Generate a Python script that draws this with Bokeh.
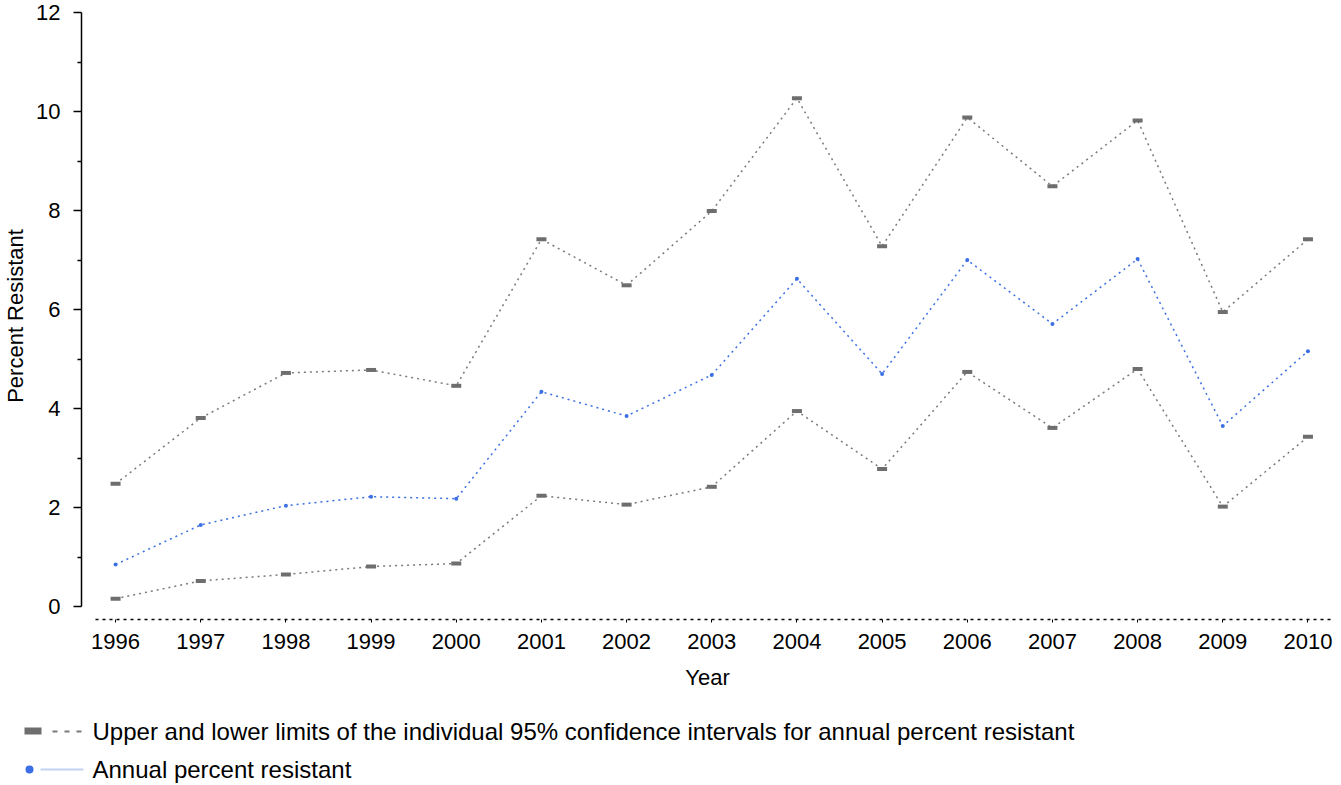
from bokeh.plotting import figure
from bokeh.models import Range1d, FixedTicker
from bokeh.layouts import column, row
from bokeh.embed import file_html
from bokeh.resources import INLINE
from bokeh.core.properties import value

years = list(range(1996, 2011))
upper = [2.48, 3.81, 4.72, 4.78, 4.46, 7.42, 6.49, 7.99, 10.27, 7.28, 9.88, 8.49, 9.82, 5.95, 7.42]
annual = [0.85, 1.65, 2.04, 2.22, 2.18, 4.34, 3.85, 4.68, 6.62, 4.70, 7.00, 5.71, 7.02, 3.65, 5.16]
lower = [0.16, 0.52, 0.65, 0.81, 0.87, 2.24, 2.06, 2.42, 3.95, 2.78, 4.74, 3.61, 4.80, 2.02, 3.43]
y_ticks = [0, 2, 4, 6, 8, 10, 12]
legend_labels = ["Upper and lower limits of the individual 95% confidence intervals for annual percent resistant",
                 "Annual percent resistant"]

FONT = "Liberation Sans"
GRAY_M = "#6e6e6e"
GRAY_L = "#7a7a7a"
BLUE = "#3b6fe3"
FS = "22px"

p = figure(width=1341, height=695, output_backend="svg", toolbar_location=None,
           x_range=Range1d(1995.6, 2010.3), y_range=Range1d(-0.26, 12),
           min_border_left=81, min_border_right=8, min_border_top=12, min_border_bottom=76)
p.outline_line_color = None
p.grid.visible = False
p.background_fill_color = "white"
p.border_fill_color = "white"

# lines
p.line(years, upper, line_color=GRAY_L, line_width=1.5, line_dash="2 4")
p.line(years, lower, line_color=GRAY_L, line_width=1.5, line_dash="2 4")
p.line(years, annual, line_color=BLUE, line_width=1.5, line_dash="2 4")
p.rect(years, upper, width=10, height=4, width_units="screen", height_units="screen",
       fill_color=GRAY_M, line_color=None)
p.rect(years, lower, width=10, height=4, width_units="screen", height_units="screen",
       fill_color=GRAY_M, line_color=None)
p.scatter(years, annual, size=4, fill_color=BLUE, line_color=None)

# x axis
xa = p.xaxis[0]
xa.ticker = FixedTicker(ticks=years)
xa.bounds = (1995.77, 2010.26)
xa.axis_line_dash = "3 4"
xa.axis_line_color = "black"
xa.axis_line_width = 1.5
xa.major_tick_out = 3
xa.major_tick_in = 0
xa.minor_tick_out = 0
xa.minor_tick_in = 0
xa.major_tick_line_color = "black"
xa.major_label_text_font = FONT
xa.major_label_text_font_size = FS
xa.major_label_text_color = "black"
xa.major_label_standoff = 11
xa.axis_label = "Year"
xa.axis_label_text_font = FONT
xa.axis_label_text_font_size = FS
xa.axis_label_text_font_style = "normal"
xa.axis_label_text_color = "black"
xa.axis_label_standoff = 13

# y axis
ya = p.yaxis[0]
ya.ticker = FixedTicker(ticks=y_ticks, minor_ticks=[1, 3, 5, 7, 9, 11])
ya.bounds = (0, 12)
ya.axis_line_color = "black"
ya.axis_line_width = 1.5
ya.major_tick_out = 8
ya.major_tick_in = 0
ya.minor_tick_out = 4
ya.minor_tick_in = 0
ya.major_tick_line_width = 1.5
ya.minor_tick_line_width = 1.5
ya.major_label_text_font = FONT
ya.major_label_text_font_size = FS
ya.major_label_text_color = "black"
ya.major_label_standoff = 13
ya.axis_label = "Percent Resistant"
ya.axis_label_text_font = FONT
ya.axis_label_text_font_size = FS
ya.axis_label_text_font_style = "normal"
ya.axis_label_text_color = "black"
ya.axis_label_standoff = 5

# legend figure
lg = figure(width=1341, height=89, output_backend="svg", toolbar_location=None,
            x_range=Range1d(0, 1341), y_range=Range1d(89, 0),
            x_axis_location=None, y_axis_location=None,
            min_border=0, min_border_left=0, min_border_right=0,
            min_border_top=0, min_border_bottom=0)
lg.grid.visible = False
lg.outline_line_color = None
lg.rect([32.5], [35.5], width=17, height=7, fill_color=GRAY_M, line_color=None)
lg.line([52, 81], [36, 36], line_color=GRAY_L, line_width=2, line_dash="5 7")
lg.scatter([29], [74], size=8, fill_color=BLUE, line_color=None)
lg.line([40, 83], [74, 74], line_color="#c4d2f4", line_width=2)
lg.text([92, 92], [36, 74], text=legend_labels, text_font=value(FONT), text_font_size="24px",
        text_baseline="middle", text_align="left", text_color="black")

layout = column(p, row(lg, spacing=0), spacing=0)
open("out.html", "w").write(file_html(layout, INLINE))
